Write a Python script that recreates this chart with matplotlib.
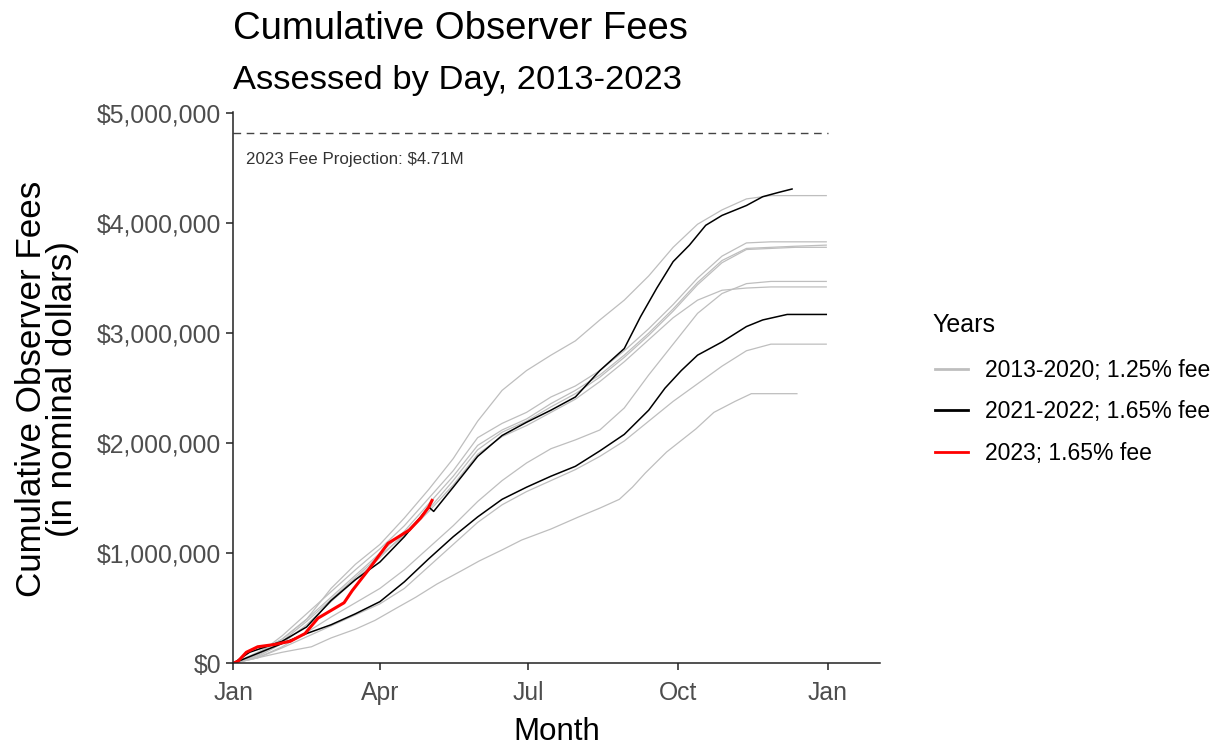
import matplotlib
matplotlib.use("Agg")
import matplotlib.pyplot as plt
from matplotlib.lines import Line2D
from matplotlib.ticker import FuncFormatter

plt.rcParams['font.family'] = ['Liberation Sans', 'DejaVu Sans']

# --- values (day of year, cumulative fees in $M) ---
days_std = [0, 15, 30, 45, 60, 75, 90, 105, 120, 135, 150, 165, 180,
            195, 210, 225, 240, 255, 270, 285, 300, 315, 330, 345, 364]

# 2013-2020, 1.25% fee (grey)
grey_a = [0, 0.08, 0.22, 0.40, 0.68, 0.90, 1.08, 1.32, 1.58, 1.86, 2.20, 2.48, 2.66,
          2.80, 2.93, 3.12, 3.30, 3.52, 3.78, 3.99, 4.12, 4.22, 4.25, 4.25, 4.25]
grey_b = [0, 0.08, 0.25, 0.45, 0.65, 0.85, 1.04, 1.25, 1.50, 1.75, 2.05, 2.18, 2.28,
          2.42, 2.52, 2.66, 2.84, 3.04, 3.26, 3.50, 3.70, 3.82, 3.83, 3.83, 3.83]
grey_c = [0, 0.10, 0.22, 0.40, 0.60, 0.80, 1.00, 1.20, 1.45, 1.70, 1.98, 2.12, 2.22,
          2.36, 2.48, 2.62, 2.80, 3.00, 3.22, 3.46, 3.66, 3.77, 3.78, 3.79, 3.80]
grey_d = [0, 0.06, 0.18, 0.35, 0.56, 0.76, 0.96, 1.18, 1.40, 1.66, 1.94, 2.10, 2.20,
          2.33, 2.45, 2.60, 2.78, 2.98, 3.20, 3.44, 3.64, 3.76, 3.77, 3.78, 3.78]
grey_e = [0, 0.05, 0.15, 0.28, 0.42, 0.55, 0.68, 0.85, 1.05, 1.25, 1.47, 1.66, 1.82,
          1.95, 2.03, 2.12, 2.32, 2.62, 2.90, 3.18, 3.36, 3.45, 3.47, 3.47, 3.47]
grey_f = [0, 0.07, 0.20, 0.38, 0.58, 0.78, 0.98, 1.16, 1.38, 1.62, 1.90, 2.06, 2.16,
          2.28, 2.40, 2.56, 2.74, 2.94, 3.14, 3.30, 3.39, 3.41, 3.42, 3.42, 3.42]
grey_g = [0, 0.05, 0.14, 0.24, 0.34, 0.44, 0.54, 0.68, 0.88, 1.08, 1.28, 1.44, 1.56,
          1.66, 1.76, 1.88, 2.02, 2.20, 2.38, 2.54, 2.70, 2.84, 2.90, 2.90, 2.90]
grey_h_days = [0, 15, 30, 48, 60, 75, 87, 100, 112, 125, 140, 151, 165, 177, 195,
               212, 225, 237, 245, 253, 266, 284, 295, 308, 318, 346]
grey_h = [0, 0.05, 0.10, 0.15, 0.23, 0.31, 0.39, 0.50, 0.60, 0.72, 0.84, 0.93, 1.03,
          1.12, 1.22, 1.33, 1.41, 1.49, 1.60, 1.73, 1.92, 2.13, 2.28, 2.38, 2.45, 2.45]

# 2021-2022, 1.65% fee (black)
black_a_days = [0, 10, 20, 30, 45, 60, 75, 90, 105, 120, 123, 135, 150, 165, 180, 195,
                210, 225, 240, 250, 260, 270, 280, 290, 300, 315, 325, 335, 343]
black_a = [0, 0.10, 0.15, 0.20, 0.33, 0.57, 0.76, 0.92, 1.15, 1.42, 1.38, 1.60, 1.88,
           2.07, 2.19, 2.30, 2.42, 2.66, 2.86, 3.15, 3.41, 3.65, 3.80, 3.98, 4.07,
           4.16, 4.24, 4.28, 4.31]
black_b_days = [0, 10, 20, 30, 45, 60, 75, 90, 105, 120, 135, 150, 165, 180, 195, 210,
                225, 240, 255, 265, 275, 285, 300, 315, 325, 340, 364]
black_b = [0, 0.06, 0.12, 0.18, 0.27, 0.35, 0.45, 0.56, 0.74, 0.95, 1.15, 1.33, 1.49,
           1.60, 1.70, 1.79, 1.93, 2.08, 2.30, 2.50, 2.66, 2.80, 2.92, 3.06, 3.12,
           3.17, 3.17]

# 2023, 1.65% fee (red)
red_days = [0, 3, 8, 15, 25, 35, 44, 52, 60, 68, 73, 83, 95, 108, 115, 120, 122]
red_vals = [0, 0.02, 0.10, 0.15, 0.17, 0.20, 0.27, 0.41, 0.48, 0.55, 0.66, 0.85,
            1.09, 1.21, 1.32, 1.42, 1.48]

projection = 4.82  # dashed line, $M
month_ticks = [0, 90, 181, 273, 365]
month_labels = ["Jan", "Apr", "Jul", "Oct", "Jan"]
y_ticks = [0, 1, 2, 3, 4, 5]

GREY = "#BEBEBE"

# --- figure ---
fig = plt.figure(figsize=(12.17, 7.45), dpi=100)
ax = fig.add_axes([0.1917, 0.1097, 0.5314, 0.74])

greys = [grey_a, grey_b, grey_c, grey_d, grey_e, grey_f, grey_g]
for vals in greys:
    ax.plot(days_std, [v * 1e6 for v in vals], color=GREY, lw=0.9)
ax.plot(grey_h_days, [v * 1e6 for v in grey_h], color=GREY, lw=0.9)

ax.plot(black_a_days, [v * 1e6 for v in black_a], color="black", lw=1.1)
ax.plot(black_b_days, [v * 1e6 for v in black_b], color="black", lw=1.1)
ax.plot(red_days, [v * 1e6 for v in red_vals], color="red", lw=2.2)

ax.plot([0, 365], [projection * 1e6] * 2, ls=(0, (5.5, 4)), color="#444444", lw=1.0)
ax.text(7.8, 4.575e6, "2023 Fee Projection: $4.71M", fontsize=12.2,
        color="#333333", va="center", ha="left")

ax.set_xlim(0, 397)
ax.set_ylim(0, 5.01e6)
ax.set_xticks(month_ticks)
ax.set_xticklabels(month_labels)
ax.set_yticks([v * 1e6 for v in y_ticks])
ax.yaxis.set_major_formatter(FuncFormatter(lambda v, p: "${:,.0f}".format(v)))

for s in ["top", "right"]:
    ax.spines[s].set_visible(False)
for s in ["left", "bottom"]:
    ax.spines[s].set_color("#222222")
    ax.spines[s].set_linewidth(1.1)
ax.tick_params(axis="both", length=5, width=1.1, color="#222222",
               labelcolor="#4D4D4D", labelsize=17.8)
ax.tick_params(axis="x", pad=8)
ax.tick_params(axis="y", pad=3.5)

# titles
fig.text(233 / 1217, 1 - 39 / 745, "Cumulative Observer Fees", fontsize=27.5,
         ha="left", va="baseline")
fig.text(233 / 1217, 1 - 89 / 745, "Assessed by Day, 2013-2023", fontsize=24.8,
         ha="left", va="baseline")
fig.text(557 / 1217, 1 - 740 / 745, "Month", fontsize=22.5, ha="center", va="baseline")
fig.text(47 / 1217, 1 - 389 / 745, "Cumulative Observer Fees\n(in nominal dollars)",
         fontsize=25.2, rotation=90, ha="center", va="center", ma="center",
         linespacing=0.92)

# legend
fig.text(932 / 1217, 1 - 332 / 745, "Years", fontsize=18, ha="left", va="baseline")
handles = [Line2D([], [], color=GREY, lw=2),
           Line2D([], [], color="black", lw=2),
           Line2D([], [], color="red", lw=2)]
labels = ["2013-2020; 1.25% fee", "2021-2022; 1.65% fee", "2023; 1.65% fee"]
fig.legend(handles, labels, loc="upper left",
           bbox_to_anchor=(935 / 1217, 1 - 359 / 745),
           frameon=False, fontsize=16.5,
           handlelength=1.45, handletextpad=0.72, labelspacing=0.8,
           borderpad=0, borderaxespad=0)

fig.savefig("out.png", dpi=100)
